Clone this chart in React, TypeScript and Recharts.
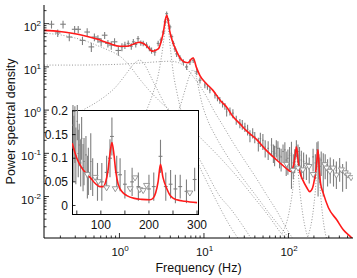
import React from "react";
import { ComposedChart, Line, Scatter, XAxis, YAxis, ErrorBar } from "recharts";

const FONT = "'Liberation Sans', Arial, Helvetica, sans-serif";
const GREY = "#7f7f7f";
const RED = "#ff1a1a";
const DOT = "#8a8a8a";

// ---------- main panel (log-log) ----------
const xDecades = [0.1, 1, 10, 100];
const yDecades = [0.001, 0.01, 0.1, 1, 10, 100];
const xDomain: [number, number] = [0.128, 580];
const yDomain: [number, number] = [0.0011, 270];

// binned power spectrum: [freq, power, sigma]
const psdPoints = [
  [0.157, 97, 20], [0.186, 61, 12], [0.215, 97, 20], [0.255, 49, 10], [0.295, 74, 14], [0.325, 74, 14],
  [0.365, 41, 9], [0.415, 64, 14], [0.465, 29, 7], [0.505, 49, 10], [0.556, 45, 9], [0.607, 38, 8],
  [0.668, 54, 10], [0.73, 35, 7], [0.8, 32, 7], [0.875, 38, 8], [0.97, 24, 6], [1.07, 29, 6],
  [1.16, 32, 6], [1.27, 35, 6], [1.38, 30, 5], [1.46, 38, 6], [1.56, 33, 5], [1.66, 45, 7],
  [1.79, 36, 5], [1.91, 35, 5], [2.09, 32, 5], [2.26, 27, 4], [2.4, 24, 4], [2.62, 22, 4],
  [2.87, 35, 5], [3.1, 42, 6], [3.3, 64, 8], [3.47, 110, 14], [3.62, 170, 20], [3.79, 120, 15],
  [3.96, 84, 10], [4.16, 50, 6], [4.34, 35, 5], [4.54, 26, 4], [4.75, 20, 3], [5.2, 16, 2.5],
  [5.7, 13, 2], [6.24, 10, 1.5], [6.82, 13, 2], [7.46, 14.3, 2], [8.22, 7.7, 1.2], [8.97, 4.9, 0.8],
  [10.25, 3.8, 0.6], [11, 3.45, 0.5], [11.75, 2.9, 0.45], [13.5, 2.2, 0.35], [14.45, 1.9, 0.3],
  [15.4, 1.7, 0.3], [16.6, 1.4, 0.25], [17.7, 1.24, 0.22], [18.55, 0.91, 0.2], [20.3, 0.95, 0.2],
  [22, 0.85, 0.2], [24.1, 0.6, 0.14], [26.6, 0.5, 0.12], [28.4, 0.47, 0.12], [30.5, 0.41, 0.1],
  [32.8, 0.36, 0.1], [35, 0.26, 0.08], [37.7, 0.3, 0.08], [39.9, 0.24, 0.07], [44, 0.17, 0.06],
  [46.5, 0.22, 0.08], [49.8, 0.2, 0.08], [53, 0.14, 0.06], [57.5, 0.13, 0.06], [63, 0.155, 0.07],
  [66.3, 0.11, 0.05], [68.5, 0.1, 0.05], [71.8, 0.14, 0.06], [75, 0.13, 0.06], [78.4, 0.09, 0.045],
  [81.8, 0.083, 0.045], [86.2, 0.11, 0.05], [90.6, 0.12, 0.06], [94, 0.07, 0.04], [98.4, 0.077, 0.045],
  [103, 0.09, 0.05], [108.5, 0.1, 0.085], [114, 0.06, 0.035], [118.5, 0.08, 0.045], [124, 0.14, 0.06],
  [129.5, 0.11, 0.05], [135, 0.09, 0.05], [142, 0.07, 0.045], [151, 0.065, 0.04], [163, 0.059, 0.035],
  [176, 0.05, 0.03], [195.5, 0.083, 0.045], [208, 0.06, 0.035], [217, 0.12, 0.06], [224, 0.1, 0.09],
  [229, 0.06, 0.035], [235, 0.05, 0.03], [244, 0.07, 0.04], [258, 0.055, 0.045], [272, 0.06, 0.035],
  [290, 0.045, 0.028], [312, 0.05, 0.03], [341, 0.045, 0.028], [369, 0.04, 0.025], [403, 0.05, 0.028],
  [437, 0.035, 0.022], [483, 0.04, 0.025],
];

// upper limits (open down-triangles): [freq, power]
const limitPoints = [
  [95, 0.055], [113, 0.04], [130, 0.045], [148, 0.041], [163, 0.052], [175, 0.049], [196, 0.032],
  [269, 0.054], [283, 0.045], [309, 0.038], [337, 0.045], [369, 0.031], [423, 0.041], [470, 0.035],
  [506, 0.031], [550, 0.027],
];

// best-fit model (red)
const modelMain = [
  [0.128, 70], [0.196, 66], [0.275, 60], [0.395, 52], [0.54, 44], [0.755, 35], [1.01, 30], [1.22, 30],
  [1.48, 34], [1.73, 37], [2.05, 32], [2.46, 23], [2.88, 26], [3.15, 42], [3.3, 62], [3.5, 125],
  [3.63, 155], [3.75, 125], [3.95, 65], [4.26, 38], [4.79, 22], [5.22, 16], [5.86, 13], [6.5, 12.5],
  [7.04, 15], [7.47, 16], [8.1, 10], [8.96, 6.3], [10.56, 4.2], [12.7, 2.9], [15.9, 1.6], [18.6, 1.17],
  [21.9, 0.72], [26.7, 0.48], [32, 0.33], [43, 0.2], [54, 0.12], [65, 0.085], [81, 0.058], [98, 0.042],
  [106, 0.038], [112, 0.045], [116, 0.058], [120, 0.09], [124, 0.14], [127, 0.11], [131, 0.06],
  [137, 0.036], [148, 0.024], [165, 0.016], [178, 0.013], [193, 0.016], [205, 0.028], [214, 0.05],
  [219, 0.085], [223, 0.12], [226, 0.09], [232, 0.04], [240, 0.02], [258, 0.012], [297, 0.0055],
  [372, 0.0029], [445, 0.0017], [560, 0.0011], [580, 0.001],
];

// model components (dotted)
const compLow = [
  [0.128, 60], [0.2, 55], [0.28, 48], [0.38, 41], [0.55, 31], [0.75, 24], [1.0, 18], [1.3, 11], [1.7, 5.5],
  [2.2, 3], [3, 1.6], [4.5, 0.8], [7, 0.38], [10, 0.19], [15, 0.085], [25, 0.028], [40, 0.009],
  [60, 0.0033], [80, 0.0015], [95, 0.001],
];
const compFlat = [
  [0.128, 11], [0.3, 11], [0.6, 11.2], [1, 11.5], [1.5, 12], [2, 12.5], [3, 13.2], [4, 13.5], [5, 12.5],
  [6, 10], [7, 7], [8.5, 4.2], [10.5, 2.2], [13, 1.0], [17, 0.42], [22, 0.18], [30, 0.07], [40, 0.03],
  [55, 0.011], [75, 0.0042], [95, 0.0018], [115, 0.001],
];
const compQpoA = [
  [0.3, 0.75], [0.37, 1.0], [0.5, 1.4], [0.7, 2.2], [0.9, 3.4], [1.1, 5.5], [1.3, 8.5], [1.5, 12],
  [1.73, 14.3], [1.95, 12], [2.15, 8.5], [2.45, 5], [2.85, 2.8], [3.35, 1.5], [4.1, 0.75], [5.1, 0.35],
  [7.2, 0.11], [10, 0.03], [14, 0.008], [20, 0.0022], [26, 0.001],
];
const compQpoB = [
  [1.2, 0.12], [1.6, 0.3], [2.05, 0.9], [2.5, 2.5], [2.9, 7], [3.2, 22], [3.42, 60], [3.63, 140],
  [3.84, 60], [4.05, 22], [4.35, 7], [4.8, 2.5], [5.4, 0.9], [6.2, 0.35], [7.8, 0.12], [10.5, 0.04],
  [15, 0.011], [21, 0.005], [31, 0.0017], [37, 0.001],
];
const compQpoC = [
  [4.2, 0.5], [5.2, 1.2], [6, 3], [6.7, 6], [7.4, 8.5], [8.1, 6], [8.7, 3], [9.5, 1.4], [11, 0.6],
  [13.7, 0.25], [18, 0.1], [26, 0.035], [42, 0.01], [63, 0.0035], [85, 0.0017], [105, 0.001],
];
const compHfA = [
  [84, 0.0014], [104, 0.0055], [114, 0.019], [119, 0.048], [124, 0.1], [129, 0.048], [134, 0.019],
  [144, 0.0055], [164, 0.0014], [175, 0.001],
];
const compHfB = [
  [170, 0.0012], [198, 0.0055], [211, 0.02], [217, 0.05], [223, 0.1], [229, 0.05], [235, 0.02],
  [248, 0.0055], [273, 0.0014], [285, 0.001],
];

// ---------- inset (linear) ----------
const insetXDomain: [number, number] = [40, 302];
const insetYDomain: [number, number] = [-0.018, 0.202];
const insetXTicks = [50, 100, 150, 200, 250, 300];
const insetXLabels = [100, 200, 300];
const insetYTicks = [0, 0.05, 0.1, 0.15, 0.2];

const insetPoints = [
  [42, 0.17, 0.05], [44, 0.12, 0.07], [46, 0.15, 0.06], [48, 0.105, 0.06], [51, 0.178, 0.04],
  [53, 0.11, 0.05], [55, 0.128, 0.045], [58, 0.09, 0.05], [60, 0.142, 0.045], [63, 0.08, 0.05],
  [65, 0.093, 0.05], [69, 0.107, 0.04], [72, 0.06, 0.045], [74, 0.072, 0.05], [79, 0.093, 0.06],
  [83, 0.06, 0.04], [93, 0.05, 0.04], [102, 0.05, 0.04], [112, 0.07, 0.035], [119, 0.1, 0.04],
  [123, 0.146, 0.04], [133, 0.07, 0.035], [140, 0.065, 0.035], [150, 0.045, 0.03], [165, 0.05, 0.03],
  [178, 0.04, 0.03], [200, 0.035, 0.03], [210, 0.04, 0.03], [224, 0.104, 0.035], [235, 0.04, 0.03],
  [245, 0.045, 0.03], [255, 0.035, 0.03], [265, 0.04, 0.025], [278, 0.03, 0.025], [295, 0.055, 0.025],
];
const insetLimits = [
  [72, 0.065], [88, 0.059], [95, 0.05], [112, 0.037], [130, 0.035], [161, 0.035], [171, 0.058],
  [181, 0.033], [188, 0.031], [195, 0.042], [285, 0.026],
];
const insetModel = [
  [40.5, 0.132], [50, 0.1], [60, 0.08], [70, 0.067], [78, 0.059], [88, 0.047], [98, 0.04], [105, 0.04],
  [110, 0.05], [115, 0.075], [119, 0.11], [123, 0.133], [127, 0.11], [131, 0.072], [136, 0.045],
  [145, 0.028], [154, 0.021], [170, 0.015], [185, 0.013], [202, 0.012], [209, 0.016], [214, 0.027],
  [219, 0.05], [224, 0.087], [229, 0.06], [237, 0.036], [245, 0.02], [258, 0.012], [275, 0.009],
  [300, 0.006],
];

// ---------- helpers ----------
const logTicks = (decades: number[], [lo, hi]: [number, number]) =>
  decades
    .flatMap((d) => [1, 2, 3, 4, 5, 6, 7, 8, 9].map((k) => +(k * d).toPrecision(6)))
    .filter((v) => v >= lo && v <= hi);

const xTicks = logTicks(xDecades, xDomain);
const yTicks = logTicks(yDecades, yDomain);

const toXY = (pts: number[][]) => pts.map(([f, v]) => ({ f, v }));

const psd = psdPoints.map(([f, v, s]) => {
  const bw = f < 1 ? 1.08 : f < 10 ? 1.04 : 1.02;
  return { f, v, ey: [Math.min(s, v * 0.985), s], ex: [f - f / bw, f * bw - f] };
});
const limits = toXY(limitPoints);
const model = toXY(modelMain);
const components = [compLow, compFlat, compQpoA, compQpoB, compQpoC, compHfA, compHfB].map(toXY);

const inset = insetPoints.map(([f, v, s]) => ({ f, v, ey: s, ex: f < 100 ? 1.5 : 4 }));
const insetLim = toXY(insetLimits);
const insetLine = toXY(insetModel);

const isMajor = (v: number) => Math.abs(Math.log10(v) - Math.round(Math.log10(v))) < 1e-6;

function MainTick({ x, y, payload, side }: any) {
  const v = payload.value;
  const major = isMajor(v);
  const len = major ? 5 : 2.5;
  const exp = Math.round(Math.log10(v));
  if (side === "bottom") {
    return (
      <g>
        <line x1={x} x2={x} y1={y} y2={y - len} stroke="#000" strokeWidth={0.8} />
        {major && (
          <text x={x - 8} y={y + 18} fontSize={11.5} fontFamily={FONT} fill="#111">
            10<tspan dy={-5} fontSize={8}>{exp}</tspan>
          </text>
        )}
      </g>
    );
  }
  if (side === "top") return <line x1={x} x2={x} y1={y} y2={y + len} stroke="#000" strokeWidth={0.8} />;
  if (side === "right") return <line x1={x} x2={x - len} y1={y} y2={y} stroke="#000" strokeWidth={0.8} />;
  return (
    <g>
      <line x1={x} x2={x + len} y1={y} y2={y} stroke="#000" strokeWidth={0.8} />
      {major && (
        <text x={x - 3} y={y + 7} fontSize={11.5} fontFamily={FONT} fill="#111" textAnchor="end">
          10<tspan dy={-5} fontSize={8}>{exp}</tspan>
        </text>
      )}
    </g>
  );
}

function InsetTick({ x, y, payload, side }: any) {
  const v = payload.value;
  if (side === "bottom") {
    return (
      <g>
        <line x1={x} x2={x} y1={y} y2={y - 3.5} stroke="#000" strokeWidth={0.8} />
        {insetXLabels.includes(v) && (
          <text x={x} y={y + 15} fontSize={12} fontFamily={FONT} fill="#111" textAnchor="middle">
            {v}
          </text>
        )}
      </g>
    );
  }
  if (side === "top") return <line x1={x} x2={x} y1={y} y2={y + 3.5} stroke="#000" strokeWidth={0.8} />;
  if (side === "right") return <line x1={x} x2={x - 3.5} y1={y} y2={y} stroke="#000" strokeWidth={0.8} />;
  return (
    <g>
      <line x1={x} x2={x + 3.5} y1={y} y2={y} stroke="#000" strokeWidth={0.8} />
      <text x={x - 4} y={y + 4.2} fontSize={12} fontFamily={FONT} fill="#111" textAnchor="end">
        {v === 0 ? "0" : String(v)}
      </text>
    </g>
  );
}

function XTitle({ viewBox }: any) {
  const { x, y, width } = viewBox;
  return (
    <text x={x + width / 2} y={y + 34} fontSize={12.5} fontFamily={FONT} fill="#111" textAnchor="middle">
      Frequency (Hz)
    </text>
  );
}

function YTitle({ viewBox }: any) {
  const cx = 11;
  const cy = viewBox.y + viewBox.height / 2;
  return (
    <text x={cx} y={cy} transform={`rotate(-90 ${cx} ${cy})`} fontSize={12.5} fontFamily={FONT} fill="#111"
      textAnchor="middle" dominantBaseline="central">
      Power spectral density
    </text>
  );
}

function DownTriangle({ cx, cy }: any) {
  if (cx == null || cy == null) return <g />;
  return (
    <path d={`M${cx - 3},${cy - 2.2}L${cx + 3},${cy - 2.2}L${cx},${cy + 2.8}Z`} fill="#fff" stroke="#8f8f8f" strokeWidth={0.9} />
  );
}

const noMark = () => <g />;

function MainPanel() {
  const axisCommon = {
    type: "number" as const,
    scale: "log" as const,
    allowDataOverflow: true,
    interval: 0 as const,
    tickSize: 0,
    tickMargin: 0,
    tickLine: false,
    axisLine: { stroke: "#000", strokeWidth: 1 },
  };
  return (
    <ComposedChart width={357} height={278} margin={{ top: 5, right: 4, bottom: 0, left: 0 }}>
      <XAxis {...axisCommon} dataKey="f" domain={xDomain} ticks={xTicks} height={40}
        tick={<MainTick side="bottom" />} label={<XTitle />} />
      <XAxis {...axisCommon} xAxisId="top" orientation="top" dataKey="f" domain={xDomain} ticks={xTicks} height={0}
        tick={<MainTick side="top" />} />
      <YAxis {...axisCommon} dataKey="v" domain={yDomain} ticks={yTicks} width={44}
        tick={<MainTick side="left" />} label={<YTitle />} />
      <YAxis {...axisCommon} yAxisId="right" orientation="right" dataKey="v" domain={yDomain} ticks={yTicks} width={0}
        tick={<MainTick side="right" />} />
      {components.map((c, i) => (
        <Line key={i} data={c} dataKey="v" type="monotone" stroke={DOT} strokeWidth={0.9} strokeDasharray="1 1.8"
          dot={false} activeDot={false} isAnimationActive={false} />
      ))}
      <Scatter data={psd} dataKey="v" shape={noMark} isAnimationActive={false}>
        <ErrorBar dataKey="ey" direction="y" width={0} stroke={GREY} strokeWidth={1.1} />
        <ErrorBar dataKey="ex" direction="x" width={0} stroke={GREY} strokeWidth={1.1} />
      </Scatter>
      <Scatter data={limits} dataKey="v" shape={<DownTriangle />} isAnimationActive={false} />
      <Line data={model} dataKey="v" type="monotone" stroke={RED} strokeWidth={1.6} dot={false} activeDot={false}
        isAnimationActive={false} />
    </ComposedChart>
  );
}

function InsetPanel() {
  const axisCommon = {
    type: "number" as const,
    allowDataOverflow: true,
    interval: 0 as const,
    tickSize: 0,
    tickMargin: 0,
    tickLine: false,
    axisLine: false,
  };
  return (
    <ComposedChart width={185} height={130} margin={{ top: 5, right: 17, bottom: 0, left: 0 }}>
      <XAxis {...axisCommon} dataKey="f" domain={insetXDomain} ticks={insetXTicks} height={21}
        tick={<InsetTick side="bottom" />} />
      <XAxis {...axisCommon} xAxisId="top" orientation="top" dataKey="f" domain={insetXDomain} ticks={insetXTicks}
        height={0} tick={<InsetTick side="top" />} />
      <YAxis {...axisCommon} dataKey="v" domain={insetYDomain} ticks={insetYTicks} width={42}
        tick={<InsetTick side="left" />} />
      <YAxis {...axisCommon} yAxisId="right" orientation="right" dataKey="v" domain={insetYDomain} ticks={insetYTicks}
        width={0} tick={<InsetTick side="right" />} />
      <Scatter data={inset} dataKey="v" shape={noMark} isAnimationActive={false}>
        <ErrorBar dataKey="ey" direction="y" width={0} stroke={GREY} strokeWidth={1.1} />
        <ErrorBar dataKey="ex" direction="x" width={0} stroke={GREY} strokeWidth={1.1} />
      </Scatter>
      <Scatter data={insetLim} dataKey="v" shape={<DownTriangle />} isAnimationActive={false} />
      <Line data={insetLine} dataKey="v" type="monotone" stroke={RED} strokeWidth={1.6} dot={false} activeDot={false}
        isAnimationActive={false} />
    </ComposedChart>
  );
}

export default function App() {
  return (
    <div style={{ position: "absolute", left: 0, top: 0, width: 357, height: 278, background: "#fff" }}>
      <div style={{ position: "absolute", left: 0, top: 0 }}>
        <MainPanel />
      </div>
      {/* inset frame + white backing */}
      <div
        style={{
          position: "absolute",
          left: 71.5,
          top: 109.5,
          width: 127,
          height: 105,
          boxSizing: "border-box",
          border: "1px solid #000",
          background: "#fff",
        }}
      />
      <div style={{ position: "absolute", left: 30, top: 105 }}>
        <InsetPanel />
      </div>
    </div>
  );
}
